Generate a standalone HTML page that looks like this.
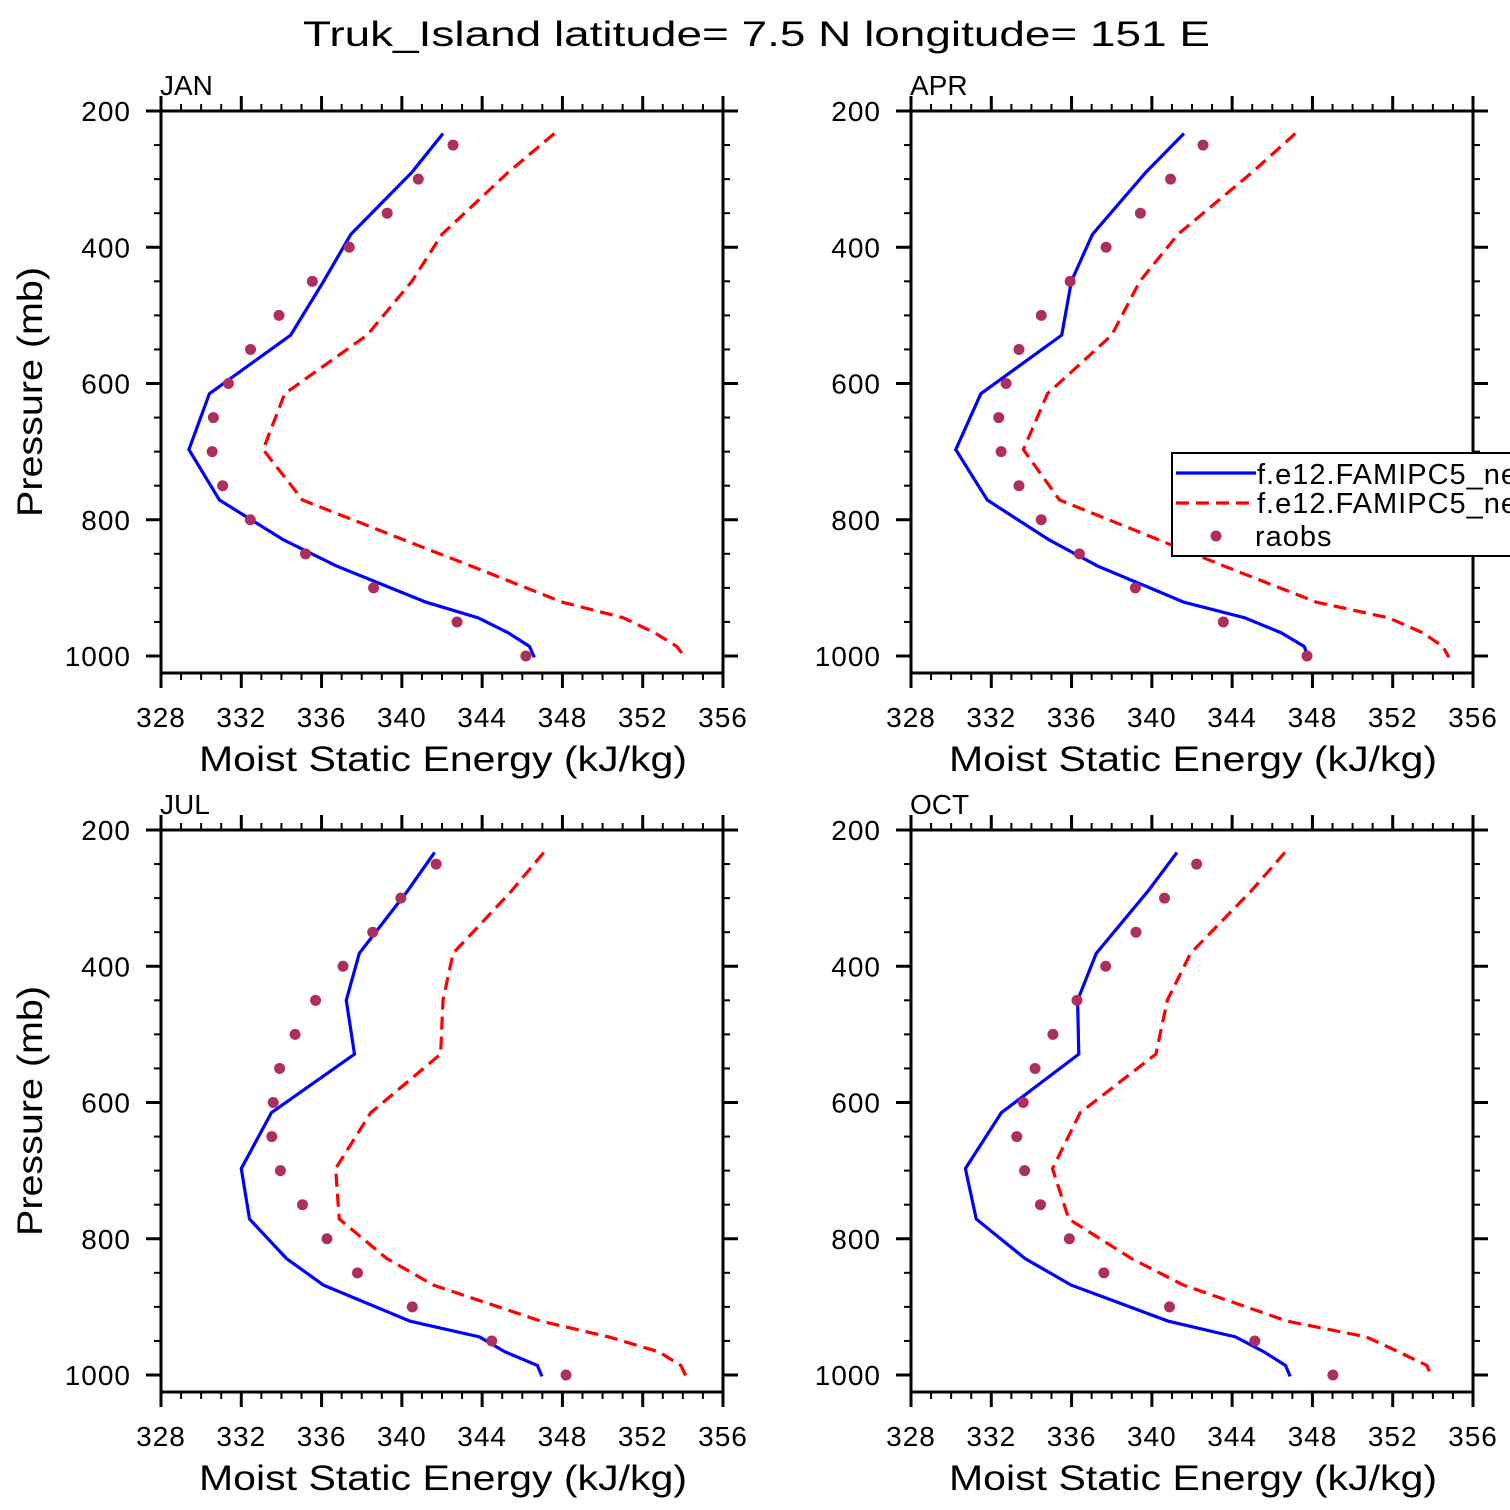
<!DOCTYPE html>
<html><head><meta charset="utf-8"><style>
html,body{margin:0;padding:0;background:#fff;width:1510px;height:1510px;overflow:hidden}
svg text{font-family:"Liberation Sans",sans-serif;fill:#000}
</style></head><body>
<svg id="fig" width="1510" height="1510" viewBox="0 0 1510 1510" xmlns="http://www.w3.org/2000/svg">
<text x="303" y="46" font-size="35" textLength="907" lengthAdjust="spacingAndGlyphs">Truk_Island  latitude= 7.5 N longitude= 151 E</text>
</svg>
<script>
const levels=[233,290,381,450,529,615,697,771,829,868,921,944,966,986,1002];
const obsLevels=[250,300,350,400,450,500,550,600,650,700,750,800,850,900,950,1000];
const months=["JAN","APR","JUL","OCT"];
const janBlue=[342.05,340.5,337.46,336.1,334.46,330.41,329.39,330.91,334.07,336.75,341.21,343.8,345.3,346.36,346.6];
const janRed=[347.6,345.3,342.0,340.5,338.27,334.16,333.09,335.05,340.05,343.46,348.0,351.04,352.6,353.7,354.1];
const janObs=[342.55,340.82,339.27,337.38,335.54,333.88,332.46,331.36,330.61,330.55,331.07,332.45,335.2,338.59,342.75,346.18];
const aprBlue=[341.6,339.7,337.04,335.99,335.51,331.48,330.23,331.8,334.85,337.3,341.6,344.64,346.45,347.59,347.8];
const aprRed=[347.15,345.0,341.3,339.4,338.0,334.8,333.6,335.4,340.3,343.6,348.2,351.8,353.5,354.5,354.8];
const aprObs=[342.55,340.93,339.43,337.72,335.93,334.49,333.38,332.74,332.37,332.49,333.38,334.49,336.39,339.18,343.56,347.73];
const julBlue=[341.63,340.27,337.88,337.23,337.64,333.5,332.0,332.41,334.25,336.09,340.41,343.86,345.14,346.75,346.98];
const julRed=[347.07,345.45,342.55,342.05,341.93,338.45,336.7,336.88,339.25,341.57,346.93,350.3,352.8,353.9,354.16];
const julObs=[341.71,339.95,338.55,337.07,335.7,334.68,333.91,333.59,333.52,333.95,335.05,336.27,337.79,340.52,344.48,348.18];
const octBlue=[341.25,339.8,337.23,336.3,336.36,332.5,330.71,331.25,333.68,335.98,340.82,344.16,345.59,346.66,346.89];
const octRed=[346.63,344.93,341.93,340.77,340.2,336.43,335.05,335.86,338.98,341.57,346.75,350.68,352.3,353.7,353.93];
const octObs=[342.23,340.63,339.21,337.7,336.27,335.07,334.18,333.59,333.27,333.66,334.45,335.89,337.61,340.88,345.13,349.02];
const xTicks=[328,332,336,340,344,348,352,356];
const yTicks=[200,400,600,800,1000];
const legendLabels=["f.e12.FAMIPC5_ne30_g16.cam5","f.e12.FAMIPC5_ne30_g16.cam5_b","raobs"];

const blues=[janBlue,aprBlue,julBlue,octBlue];
const reds=[janRed,aprRed,julRed,octRed];
const obs=[janObs,aprObs,julObs,octObs];
const NS="http://www.w3.org/2000/svg";
const svg=document.getElementById('fig');
function mk(tag,attrs,parent){const e=document.createElementNS(NS,tag);for(const k in attrs)e.setAttribute(k,attrs[k]);(parent||svg).appendChild(e);return e;}
const W=562,H=562;
const origins=[[161,111],[911,111],[161,830],[911,830]];
for(let i=0;i<4;i++){
  const [x0,y0]=origins[i];
  const g=mk('g',{});
  
  
  const X=v=>x0+(v-328)/28*W;
  const Y=p=>y0+(p-200)*0.68125;
  const cp=mk('clipPath',{id:'cp'+i},g);
  mk('rect',{x:x0,y:y0,width:W,height:H},cp);
  for(let v=328;v<=356;v++){
    const maj=(v%4===0), L=maj?15:7;
    const t1=mk('line',{x1:X(v),x2:X(v),y1:y0,y2:y0-L,stroke:'#000','stroke-width':maj?3:2},g);
    
    
    const t2=mk('line',{x1:X(v),x2:X(v),y1:y0+H,y2:y0+H+L,stroke:'#000','stroke-width':maj?3:2},g);
    
    
  }
  for(let p=200;p<=1000;p+=50){
    const maj=(p%200===0), L=maj?15:7;
    const t1=mk('line',{x1:x0,x2:x0-L,y1:Y(p),y2:Y(p),stroke:'#000','stroke-width':maj?3:2},g);
    
    
    const t2=mk('line',{x1:x0+W,x2:x0+W+L,y1:Y(p),y2:Y(p),stroke:'#000','stroke-width':maj?3:2},g);
    
    
  }
  xTicks.forEach(v=>{const t=mk('text',{x:X(v),y:y0+H+54,'font-size':28,'text-anchor':'middle','letter-spacing':1},g);t.textContent=v;
    
    });
  yTicks.forEach(p=>{const t=mk('text',{x:x0-30,y:Y(p)+10,'font-size':28,'text-anchor':'end','letter-spacing':1},g);t.textContent=p;
    
    });
  const xt=mk('text',{x:x0+38,y:y0+H+98,'font-size':35,textLength:488,lengthAdjust:'spacingAndGlyphs'},g);
  xt.textContent='Moist Static Energy (kJ/kg)';
  
  
  if(i%2===0){
    const cy=y0+281;
    const yt=mk('text',{x:0,y:0,'font-size':35,'text-anchor':'middle',textLength:250,lengthAdjust:'spacingAndGlyphs',transform:`translate(42,${cy}) rotate(-90)`},g);
    yt.textContent='Pressure (mb)';
    
    
  }
  const lab=mk('text',{x:x0-1,y:y0-16,'font-size':28},g);
  lab.textContent=months[i];
  
  
  const pg=mk('g',{'clip-path':`url(#cp${i})`},g);
  const bl=mk('polyline',{points:blues[i].map((v,k)=>X(v)+','+Y(levels[k])).join(' '),fill:'none',stroke:'#0000ff','stroke-width':3.2,'stroke-linejoin':'miter'},pg);
  
  
  const rl=mk('polyline',{points:reds[i].map((v,k)=>X(v)+','+Y(levels[k])).join(' '),fill:'none',stroke:'#ff0000','stroke-width':3.2,'stroke-dasharray':'13,7'},pg);
  
  
  obs[i].forEach((v,k)=>{const c=mk('circle',{cx:X(v),cy:Y(obsLevels[k]),r:5.5,fill:'#ad2f5f'},pg);
    
    });
  const box=mk('rect',{x:x0,y:y0,width:W,height:H,fill:'none',stroke:'#000','stroke-width':3},g);
  
  
}
const lg=mk('g',{});


mk('rect',{x:1172,y:453,width:360,height:103,fill:'#fff',stroke:'#000','stroke-width':2},lg);
const l1=mk('line',{x1:1176,x2:1256,y1:473,y2:473,stroke:'#0000ff','stroke-width':3.2},lg);


const l2=mk('line',{x1:1176,x2:1256,y1:503,y2:503,stroke:'#ff0000','stroke-width':3.2,'stroke-dasharray':'13,7'},lg);


const ld=mk('circle',{cx:1216,cy:536,r:5.5,fill:'#ad2f5f'},lg);


[[1257,484],[1257,513],[1255,546]].forEach((pos,k)=>{
  const t=mk('text',{x:pos[0],y:pos[1],'font-size':29,'letter-spacing':1},lg);
  t.textContent=legendLabels[k];
  
  
});
</script>
</body></html>
